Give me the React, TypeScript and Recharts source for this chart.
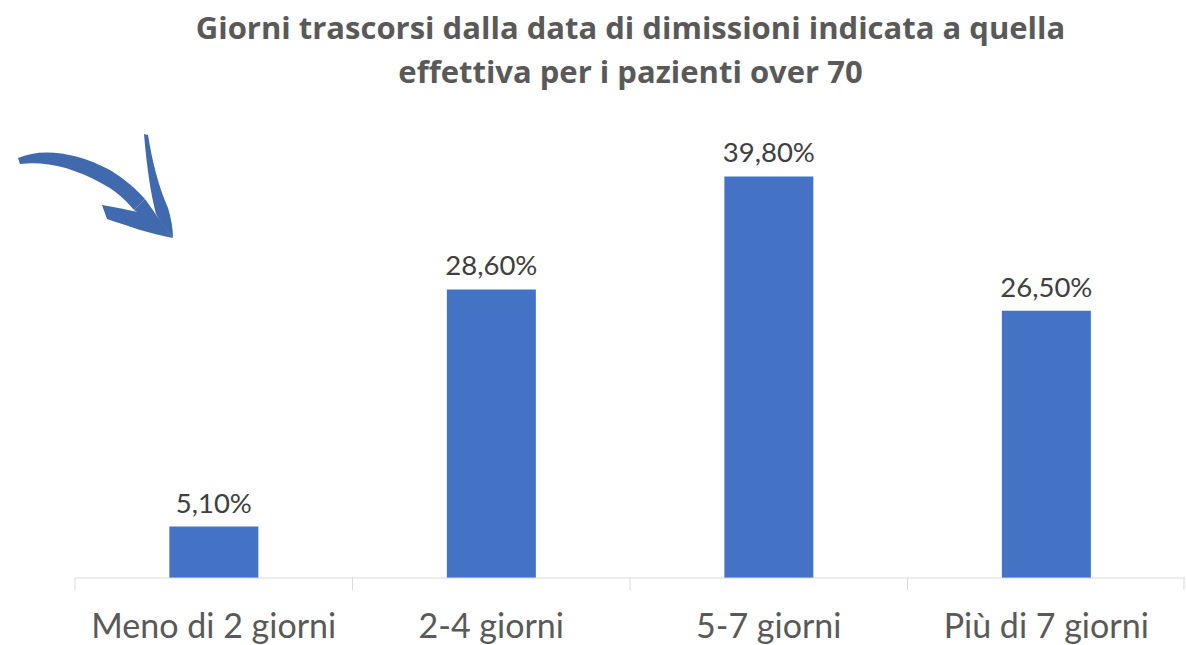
import { BarChart, Bar, XAxis, YAxis, LabelList } from 'recharts';

const categories = ['Meno di 2 giorni', '2-4 giorni', '5-7 giorni', 'Più di 7 giorni'];
const percentages = [5.1, 28.6, 39.8, 26.5];
const titleLines = ['Giorni trascorsi dalla data di dimissioni indicata a quella', 'effettiva per i pazienti over 70'];

const data = categories.map((name, i) => ({ name, value: percentages[i] }));

const fmt = (v: number) => v.toFixed(2).replace('.', ',') + '%';

function Arrow() {
  // hand-drawn style arrow in the top left corner
  return (
    <svg width={200} height={260} style={{ position: 'absolute', left: 0, top: 0 }}>
      <g fill="#4169AE">
        <path d="M18,158 C40,148 75,151 110,170 C126,180 136,189 145,199 L134,210 C124,198 113,189 101,183 C72,167 45,161 20,164 Z" />
        <path d="M102,205 C120,208 140,212 152,216 C160,222 166,230 173,238 C150,234 128,226 107,219 Z" />
        <path d="M144,134 L148,135 C152,160 158,185 168,208 C171,218 173,228 173,238 C166,230 160,222 156,214 C151,195 147,170 144,134 Z" />
        <path d="M134,210 L145,199 C153,210 161,222 171,236 L160,232 C150,222 142,215 134,210 Z" />
      </g>
    </svg>
  );
}

function CategoryTick(props: any) {
  const { x, y, payload, index, visibleTicksCount } = props;
  const half = payload && payload.offset ? payload.offset : 138.75;
  const last = index === (visibleTicksCount ?? categories.length) - 1;
  return (
    <g>
      <line x1={x - half} x2={x - half} y1={y - 16} y2={y - 4} stroke="#d9d9d9" strokeWidth={1} />
      {last && <line x1={x + half - 1} x2={x + half - 1} y1={y - 16} y2={y - 4} stroke="#d9d9d9" strokeWidth={1} />}
      <text
        x={x}
        y={y + 44}
        textAnchor="middle"
        fontSize={34}
        fill="#595959"
        fontFamily="Lato, sans-serif"
      >
        {payload.value}
      </text>
    </g>
  );
}

export default function App() {
  return (
    <div style={{ position: 'absolute', left: 0, top: 0, width: 1186, height: 645, background: '#fff' }}>
      <div
        style={{
          position: 'absolute',
          left: 75,
          width: 1111,
          top: 5,
          textAlign: 'center',
          fontFamily: '"Open Sans", sans-serif',
          fontWeight: 700,
          fontSize: 31,
          lineHeight: '44px',
          color: '#595959',
        }}
      >
        {titleLines.map((t) => (
          <div key={t}>{t}</div>
        ))}
      </div>
      <Arrow />
      <div style={{ position: 'absolute', left: 0, top: 0 }}>
        <BarChart width={1186} height={645} data={data} margin={{ top: 124, right: 1, bottom: 0, left: 75 }} barCategoryGap="34%">
          <XAxis
            dataKey="name"
            height={67}
            stroke="#d9d9d9"
            tickLine={false}
            tickSize={0}
            tickMargin={16}
            tick={<CategoryTick />}
            interval={0}
          />
          <YAxis hide domain={[0, 45]} />
          <Bar dataKey="value" fill="#4472C4" isAnimationActive={false}>
            <LabelList
              dataKey="value"
              position="top"
              offset={14}
              formatter={(v: any) => fmt(Number(v))}
              style={{ fontSize: 27.5, fill: '#404040', fontFamily: 'Lato, sans-serif' }}
            />
          </Bar>
        </BarChart>
      </div>
    </div>
  );
}
